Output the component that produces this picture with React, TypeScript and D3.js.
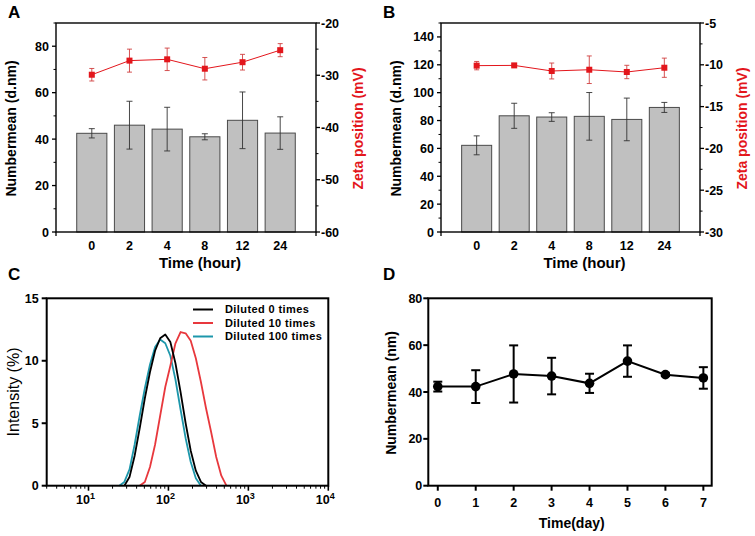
import React from "react";
import * as d3 from "d3";

// ---------- Data ----------
const hours = ["0", "2", "4", "8", "12", "24"];
const aSize = [42.5, 46.0, 44.3, 41.0, 48.1, 42.6];
const aSizeErr = [2.0, 10.3, 9.4, 1.3, 12.2, 7.0];
const aZeta = [-29.9, -27.2, -26.95, -28.75, -27.5, -25.2];
const aZetaErr = [1.2, 2.2, 2.15, 2.15, 1.5, 1.25];

const bSize = [62.2, 83.4, 82.5, 83.0, 80.8, 89.4];
const bSizeErr = [6.8, 9.0, 3.1, 17.1, 15.3, 3.6];
const bZeta = [-10.1, -10.07, -10.74, -10.59, -10.86, -10.35];
const bZetaErr = [0.5, 0.15, 0.95, 1.65, 0.8, 1.15];

const dlsSizes = [24.3, 28.1, 32.6, 37.8, 43.7, 50.7, 58.8, 68.1, 78.8, 91.3, 105.7, 122.4, 141.8, 164.2, 190.1, 220.2, 255.0, 295.3, 342.0, 396.1, 458.7, 531.2];
const dil0 = [0, 0, 0.7, 2.4, 4.6, 7.0, 9.1, 10.8, 11.8, 12.1, 11.5, 9.8, 7.5, 5.0, 2.8, 1.2, 0.3, 0, 0, 0, 0, 0];
const dil10 = [0, 0, 0, 0, 0, 0.3, 1.5, 3.3, 5.6, 7.9, 9.6, 11.4, 12.3, 12.2, 11.6, 10.2, 8.3, 6.2, 4.3, 2.3, 0.8, 0];
const dil100 = [0, 0.3, 1.3, 3.3, 5.6, 7.8, 9.7, 11.1, 11.7, 11.4, 10.4, 8.5, 6.1, 3.8, 1.9, 0.6, 0, 0, 0, 0, 0, 0];
const legendLabels = ["Diluted 0 times", "Diluted 10 times", "Diluted 100 times"];

const days = [0, 1, 2, 3, 4, 5, 6, 7];
const dMean = [42.3, 42.3, 47.7, 46.8, 43.7, 53.2, 47.4, 46.0];
const dErr = [2.1, 7.0, 12.2, 7.8, 4.1, 6.7, 0.6, 4.6];

const FONT = "'Liberation Sans', Arial, Helvetica, sans-serif";
const RED = "#e3161c";

type BarPanelProps = {
  x0: number; x1: number; y0: number; y1: number;
  size: number[]; sizeErr: number[]; zeta: number[]; zetaErr: number[];
  leftMax: number; leftTicks: number[]; leftMinor: number[];
  rightDomain: [number, number]; rightTicks: number[]; rightMinor: number[];
  letter: string; letterX: number;
};

function BarPanel(p: BarPanelProps) {
  const x = d3.scaleLinear().domain([0.05, 6.95]).range([p.x0, p.x1]);
  const yL = d3.scaleLinear().domain([0, p.leftMax]).range([p.y1, p.y0]);
  const yR = d3.scaleLinear().domain(p.rightDomain).range([p.y1, p.y0]);
  const bw = x(0.8) - x(0);
  const line = d3.line<number>().x((_, i) => x(i + 1)).y((d) => yR(d));
  const cap = 3;
  return (
    <g fontFamily={FONT}>
      <text x={p.letterX} y={18} fontSize={17} fontWeight="bold">{p.letter}</text>
      {p.size.map((v, i) => (
        <rect key={"b" + i} x={x(i + 1) - bw / 2} y={yL(v)} width={bw} height={yL(0) - yL(v)}
          fill="#c0c0c0" stroke="#4a4a4a" strokeWidth={1} />
      ))}
      {p.size.map((v, i) => {
        const cx = x(i + 1);
        const t = yL(v + p.sizeErr[i]);
        const b = yL(v - p.sizeErr[i]);
        return (
          <g key={"e" + i} stroke="#333" strokeWidth={0.9}>
            <line x1={cx} x2={cx} y1={t} y2={b} />
            <line x1={cx - cap} x2={cx + cap} y1={t} y2={t} />
            <line x1={cx - cap} x2={cx + cap} y1={b} y2={b} />
          </g>
        );
      })}
      <path d={line(p.zeta) || ""} fill="none" stroke={RED} strokeWidth={1} />
      {p.zeta.map((v, i) => {
        const cx = x(i + 1);
        const t = yR(v + p.zetaErr[i]);
        const b = yR(v - p.zetaErr[i]);
        return (
          <g key={"z" + i}>
            <g stroke="#d04040" strokeWidth={0.9}>
              <line x1={cx} x2={cx} y1={t} y2={b} />
              <line x1={cx - 2.5} x2={cx + 2.5} y1={t} y2={t} />
              <line x1={cx - 2.5} x2={cx + 2.5} y1={b} y2={b} />
            </g>
            <rect x={cx - 3} y={yR(v) - 3} width={6} height={6} fill={RED} />
          </g>
        );
      })}
      <rect x={p.x0} y={p.y0} width={p.x1 - p.x0} height={p.y1 - p.y0} fill="none" stroke="#000" strokeWidth={1.4} />
      {p.leftTicks.map((t) => (
        <g key={"lt" + t}>
          <line x1={p.x0 - 4} x2={p.x0} y1={yL(t)} y2={yL(t)} stroke="#000" strokeWidth={1.3} />
          <text x={p.x0 - 7} y={yL(t)} dy="0.36em" textAnchor="end" fontSize={12.5} fontWeight="bold">{t}</text>
        </g>
      ))}
      {p.leftMinor.map((t) => (
        <line key={"lm" + t} x1={p.x0 - 2.5} x2={p.x0} y1={yL(t)} y2={yL(t)} stroke="#000" strokeWidth={1} />
      ))}
      {p.rightTicks.map((t) => (
        <g key={"rt" + t}>
          <line x1={p.x1} x2={p.x1 + 4} y1={yR(t)} y2={yR(t)} stroke="#000" strokeWidth={1.3} />
          <text x={p.x1 + 5} y={yR(t)} dy="0.36em" textAnchor="start" fontSize={12.5} fontWeight="bold">{t}</text>
        </g>
      ))}
      {p.rightMinor.map((t) => (
        <line key={"rm" + t} x1={p.x1} x2={p.x1 + 2.5} y1={yR(t)} y2={yR(t)} stroke="#000" strokeWidth={1} />
      ))}
      <line x1={p.x0} x2={p.x0} y1={p.y1} y2={p.y1 + 4} stroke="#000" strokeWidth={1.3} />
      <line x1={p.x1} x2={p.x1} y1={p.y1} y2={p.y1 + 4} stroke="#000" strokeWidth={1.3} />
      {hours.map((h, i) => (
        <text key={"xl" + h} x={x(i + 1)} y={250} textAnchor="middle" fontSize={12.5} fontWeight="bold">{h}</text>
      ))}
      <text x={(p.x0 + p.x1) / 2 + 14} y={268} textAnchor="middle" fontSize={15} fontWeight="bold">Time (hour)</text>
      <text transform={`translate(${p.x0 - 40},${(p.y0 + p.y1) / 2 + 1}) rotate(-90)`} textAnchor="middle" fontSize={14} fontWeight="bold">Numbermean (d.nm)</text>
      <text transform={`translate(${p.x1 + 47},${(p.y0 + p.y1) / 2 + 1}) rotate(-90)`} textAnchor="middle" fontSize={14} fontWeight="bold" fill={RED}>Zeta position (mV)</text>
    </g>
  );
}

function PanelC() {
  const x0 = 46.7, x1 = 328.3, y0 = 298.3, y1 = 485.7;
  const x = d3.scaleLog().domain([3, 10000]).range([x0, x1]);
  const y = d3.scaleLinear().domain([0, 15]).range([y1, y0]);
  const series = [
    { v: dil0, c: "#000000" },
    { v: dil10, c: "#e8383d" },
    { v: dil100, c: "#1d97ab" },
  ];
  const majors = [10, 100, 1000, 10000];
  const minors: number[] = [];
  [1, 10, 100, 1000].forEach((dec) => {
    for (let m = 2; m <= 9; m++) {
      const v = dec * m;
      if (v >= 3 && v < 10000) minors.push(v);
    }
  });
  const mk = (vals: number[]) => {
    const pts: [number, number][] = [];
    vals.forEach((v, i) => {
      const keep = v > 0 || (i > 0 && vals[i - 1] > 0) || (i < vals.length - 1 && vals[i + 1] > 0);
      if (keep) pts.push([x(dlsSizes[i]), y(v)]);
    });
    return d3.line()(pts) || "";
  };
  const order = [2, 1, 0];
  return (
    <g fontFamily={FONT}>
      <text x={8} y={280} fontSize={17} fontWeight="bold">C</text>
      {order.map((k) => (
        <path key={"s" + k} d={mk(series[k].v)} fill="none" stroke={series[k].c} strokeWidth={1.8} strokeLinejoin="round" />
      ))}
      <rect x={x0} y={y0} width={x1 - x0} height={y1 - y0} fill="none" stroke="#000" strokeWidth={2} />
      {[0, 5, 10, 15].map((t) => (
        <g key={"cy" + t}>
          <line x1={x0 - 5} x2={x0} y1={y(t)} y2={y(t)} stroke="#000" strokeWidth={2} />
          <text x={x0 - 8} y={y(t)} dy="0.36em" textAnchor="end" fontSize={12.5} fontWeight="bold">{t}</text>
        </g>
      ))}
      {majors.map((t, i) => (
        <g key={"cx" + t}>
          <line x1={x(t)} x2={x(t)} y1={y1} y2={y1 + 5} stroke="#000" strokeWidth={1.6} />
          <text x={x(t) - 3} y={504} textAnchor="middle" fontSize={12.5} fontWeight="bold">
            10<tspan dy={-5} fontSize={9}>{i + 1}</tspan>
          </text>
        </g>
      ))}
      {minors.map((t) => (
        <line key={"cm" + t} x1={x(t)} x2={x(t)} y1={y1} y2={y1 + 3} stroke="#000" strokeWidth={1} />
      ))}
      <text transform={`translate(19,${(y0 + y1) / 2}) rotate(-90)`} textAnchor="middle" fontSize={16}>Intensity (%)</text>
      {legendLabels.map((l, i) => (
        <g key={"lg" + i}>
          <line x1={193} x2={213} y1={309.5 + i * 13.5} y2={309.5 + i * 13.5} stroke={series[i].c} strokeWidth={2} />
          <text x={225} y={309.5 + i * 13.5} dy="0.36em" fontSize={11} fontWeight="bold" letterSpacing={0.4}>{l}</text>
        </g>
      ))}
    </g>
  );
}

function PanelD() {
  const x0 = 428.3, x1 = 711.7, y0 = 298.3, y1 = 485.7;
  const x = d3.scaleLinear().domain([-0.25, 7.22]).range([x0, x1]);
  const y = d3.scaleLinear().domain([0, 80]).range([y1, y0]);
  const line = d3.line<number>().x((_, i) => x(days[i])).y((d) => y(d));
  return (
    <g fontFamily={FONT}>
      <text x={383} y={280} fontSize={17} fontWeight="bold">D</text>
      <path d={line(dMean) || ""} fill="none" stroke="#000" strokeWidth={2} />
      {dMean.map((v, i) => {
        const cx = x(days[i]);
        const t = y(v + dErr[i]);
        const b = y(v - dErr[i]);
        return (
          <g key={"d" + i}>
            <g stroke="#000" strokeWidth={2}>
              <line x1={cx} x2={cx} y1={t} y2={b} />
              <line x1={cx - 4.5} x2={cx + 4.5} y1={t} y2={t} />
              <line x1={cx - 4.5} x2={cx + 4.5} y1={b} y2={b} />
            </g>
            <circle cx={cx} cy={y(v)} r={4.8} fill="#000" />
          </g>
        );
      })}
      <rect x={x0} y={y0} width={x1 - x0} height={y1 - y0} fill="none" stroke="#000" strokeWidth={2} />
      {[0, 20, 40, 60, 80].map((t) => (
        <g key={"dy" + t}>
          <line x1={x0 - 5} x2={x0} y1={y(t)} y2={y(t)} stroke="#000" strokeWidth={2} />
          <text x={x0 - 6} y={y(t)} dy="0.36em" textAnchor="end" fontSize={12.5} fontWeight="bold">{t}</text>
        </g>
      ))}
      {days.map((t) => (
        <g key={"dx" + t}>
          <line x1={x(t)} x2={x(t)} y1={y1} y2={y1 + 5} stroke="#000" strokeWidth={2} />
          <text x={x(t)} y={507} textAnchor="middle" fontSize={12.5} fontWeight="bold">{t}</text>
        </g>
      ))}
      <text x={571.7} y={528} textAnchor="middle" fontSize={14} fontWeight="bold">Time(day)</text>
      <text transform={`translate(396,${(y0 + y1) / 2 + 1}) rotate(-90)`} textAnchor="middle" fontSize={14} fontWeight="bold">Numbermean  (nm)</text>
    </g>
  );
}

export default function App() {
  return (
    <svg width={755} height={536} style={{ position: "absolute", left: 0, top: 0, background: "#fff" }}>
      <rect width={755} height={536} fill="#fff" />
      <BarPanel x0={56} x1={316} y0={23} y1={232} size={aSize} sizeErr={aSizeErr} zeta={aZeta} zetaErr={aZetaErr}
        leftMax={90} leftTicks={[0, 20, 40, 60, 80]} leftMinor={[10, 30, 50, 70, 90]}
        rightDomain={[-60, -20]} rightTicks={[-60, -50, -40, -30, -20]} rightMinor={[-55, -45, -35, -25]}
        letter="A" letterX={8} />
      <BarPanel x0={441} x1={700} y0={23} y1={232} size={bSize} sizeErr={bSizeErr} zeta={bZeta} zetaErr={bZetaErr}
        leftMax={150} leftTicks={[0, 20, 40, 60, 80, 100, 120, 140]} leftMinor={[10, 30, 50, 70, 90, 110, 130, 150]}
        rightDomain={[-30, -5]} rightTicks={[-30, -25, -20, -15, -10, -5]} rightMinor={[-27.5, -22.5, -17.5, -12.5, -7.5]}
        letter="B" letterX={383} />
      <PanelC />
      <PanelD />
    </svg>
  );
}
